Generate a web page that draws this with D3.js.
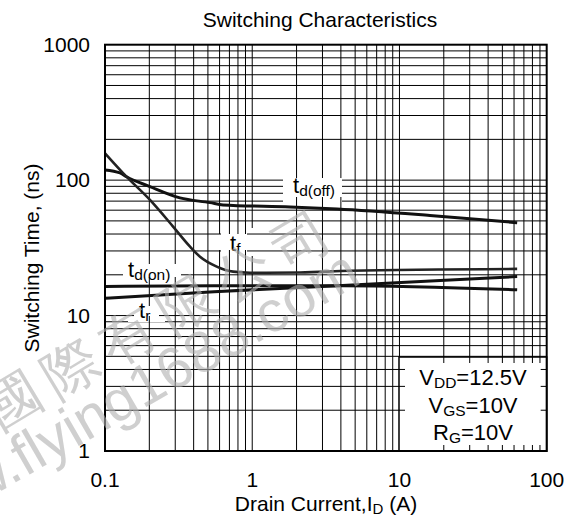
<!DOCTYPE html>
<html><head><meta charset="utf-8">
<script src="https://cdn.jsdelivr.net/npm/d3@7"></script>
<style>body{margin:0;background:#fff}svg{display:block}text{font-family:"Liberation Sans",Arial,sans-serif}</style>
</head><body>
<script>
// ---- data ----
const xTicks = [0.1, 1, 10, 100];
const yTicks = [1, 10, 100, 1000];
const xTickLabels = ["0.1", "1", "10", "100"];
const yTickLabels = ["1", "10", "100", "1000"];
const tdoffX = [0.1, 0.1265, 0.14, 0.202, 0.323, 0.517, 0.633, 1.81, 3.77, 16.1, 63];
const tdoffY = [119, 113, 106, 89.5, 73.9, 68.2, 65.6, 63.4, 61.3, 54.9, 48.5];
const tfX = [0.1, 0.14, 0.202, 0.29, 0.378, 0.442, 0.574, 0.741, 0.966, 2.11, 4.61, 63];
const tfY = [158, 106, 71.4, 45.4, 32.3, 27.2, 23.0, 21.1, 20.7, 20.8, 21.4, 22.1];
const tdonX = [0.1, 0.55, 4.1, 63];
const tdonY = [16.4, 16.6, 16.6, 15.5];
const trX = [0.1, 0.55, 4.1, 63];
const trY = [13.4, 15.0, 16.7, 19.4];

const W = 571, H = 526;
const L = 105, R = 546.7, T = 44.7, B = 451;
const svg = d3.select("body").append("svg").attr("width", W).attr("height", H);
const x = d3.scaleLog().domain([0.1, 100]).range([L, R]);
const y = d3.scaleLog().domain([1, 1000]).range([B, T]);

const minorX = [], minorY = [];
for (const d of [0.1, 1, 10]) for (let k = 1; k <= 9; k++) minorX.push(d * k);
for (const d of [1, 10, 100]) for (let k = 1; k <= 9; k++) minorY.push(d * k);

const grid = svg.append("g").attr("stroke", "#000").attr("stroke-width", 1);
grid.selectAll(".vx").data(minorX.slice(1)).enter().append("line")
  .attr("x1", d => x(d)).attr("x2", d => x(d)).attr("y1", T).attr("y2", B);
grid.selectAll(".hy").data(minorY.slice(1)).enter().append("line")
  .attr("y1", d => y(d)).attr("y2", d => y(d)).attr("x1", L).attr("x2", R);

// label boxes covering grid with small stubs
function coverBox(x0, y0, x1, y1, stroke) {
  svg.append("rect").attr("x", x0).attr("y", y0).attr("width", x1 - x0).attr("height", y1 - y0)
    .attr("fill", "#fff").attr("stroke", stroke ? "#000" : "none").attr("stroke-width", 1.5);
  const g = svg.append("g").attr("stroke", "#000").attr("stroke-width", 1);
  const s = 6;
  minorX.slice(1).forEach(v => {
    const px = x(v);
    if (px > x0 + 1 && px < x1 - 1) {
      g.append("line").attr("x1", px).attr("x2", px).attr("y1", y0).attr("y2", y0 + s);
      g.append("line").attr("x1", px).attr("x2", px).attr("y1", y1 - s).attr("y2", y1);
    }
  });
  minorY.slice(1).forEach(v => {
    const py = y(v);
    if (py > y0 + 1 && py < y1 - 1) {
      g.append("line").attr("y1", py).attr("y2", py).attr("x1", x0).attr("x2", x0 + s);
      g.append("line").attr("y1", py).attr("y2", py).attr("x1", x1 - s).attr("x2", x1);
    }
  });
}
coverBox(277, 172, 348, 203, false);
coverBox(215, 228, 253, 256, false);
coverBox(117, 258, 187, 283, false);
coverBox(128, 300, 165, 322, false);
coverBox(399, 357, R, B, true);

// curves
const line = d3.line().x(d => x(d[0])).y(d => y(d[1])).curve(d3.curveMonotoneX);
const series = [
  {xs: tdoffX, ys: tdoffY, w: 3, c: "#111"},
  {xs: tfX, ys: tfY, w: 2.6, c: "#222"},
  {xs: tdonX, ys: tdonY, w: 3, c: "#111"},
  {xs: trX, ys: trY, w: 3, c: "#111"}
];
series.forEach(s => {
  svg.append("path").datum(s.xs.map((v, i) => [v, s.ys[i]]))
    .attr("d", line).attr("fill", "none").attr("stroke", s.c).attr("stroke-width", s.w);
});

// frame
svg.append("rect").attr("x", L).attr("y", T).attr("width", R - L).attr("height", B - T)
  .attr("fill", "none").attr("stroke", "#000").attr("stroke-width", 2);

// tick labels
const fs = 21;
svg.selectAll(".xl").data(xTicks).enter().append("text")
  .attr("x", d => x(d)).attr("y", 487).attr("text-anchor", "middle").attr("font-size", fs)
  .text((d, i) => xTickLabels[i]);
svg.selectAll(".yl").data(yTicks).enter().append("text")
  .attr("x", 90).attr("y", d => y(d) + 7).attr("text-anchor", "end").attr("font-size", fs)
  .text((d, i) => yTickLabels[i]);

// titles
svg.append("text").attr("x", 320).attr("y", 27).attr("text-anchor", "middle").attr("font-size", fs)
  .text("Switching Characteristics");
const xt = svg.append("text").attr("x", 326).attr("y", 511).attr("text-anchor", "middle").attr("font-size", fs);
xt.append("tspan").text("Drain Current,I");
xt.append("tspan").attr("font-size", 15).attr("dy", 3).text("D");
xt.append("tspan").attr("dy", -3).text(" (A)");
svg.append("text").attr("transform", "translate(39,258) rotate(-90)").attr("text-anchor", "middle")
  .attr("font-size", fs).text("Switching Time, (ns)");

// curve labels
function subLabel(px, py, main, sub) {
  const t = svg.append("text").attr("x", px).attr("y", py).attr("font-size", 22);
  t.append("tspan").text(main);
  t.append("tspan").attr("font-size", 15.5).attr("dy", 3).text(sub);
}
subLabel(293, 193, "t", "d(off)");
subLabel(230, 251, "t", "f");
subLabel(128, 277, "t", "d(on)");
subLabel(139, 318, "t", "r");

// conditions
function condLine(cy, main, sub, rest) {
  const t = svg.append("text").attr("x", 473).attr("y", cy).attr("text-anchor", "middle").attr("font-size", 22);
  t.append("tspan").text(main);
  t.append("tspan").attr("font-size", 15.5).attr("dy", 3).text(sub);
  t.append("tspan").attr("dy", -3).text(rest);
}
condLine(385, "V", "DD", "=12.5V");
condLine(413, "V", "GS", "=10V");
condLine(440, "R", "G", "=10V");

// watermark (semi-transparent light overlay)
const wm = svg.append("g").attr("fill", "#b0b0b0").attr("opacity", 0.6);
const chars = ["國", "際", "有", "限", "公", "司"];
chars.forEach((c, i) => {
  wm.append("text").attr("transform", `translate(${14 + i * 57.6 + 9},${400 - i * 32 + 17}) rotate(-31)`)
    .attr("text-anchor", "middle").attr("font-size", 56)
    .attr("font-family", "Noto Sans CJK TC").text(c);
});
wm.append("text").attr("transform", "translate(363,282) rotate(-30)").attr("text-anchor", "end")
  .attr("font-size", 58).text("www.flying1688.com");
</script>
</body></html>
